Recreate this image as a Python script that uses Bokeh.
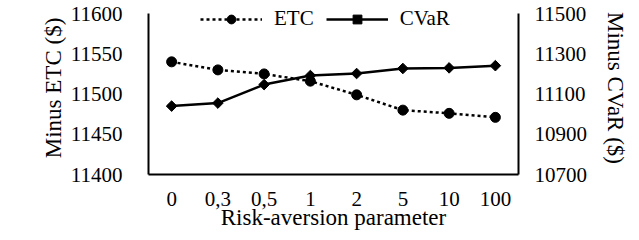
import math
from bokeh.plotting import figure
from bokeh.models import FactorRange, Range1d, LinearAxis, FixedTicker, Legend
from bokeh.embed import file_html
from bokeh.resources import INLINE

categories = ["0", "0,3", "0,5", "1", "2", "5", "10", "100"]
etc_values = [11540, 11530, 11525, 11516, 11499, 11480, 11476, 11471]
cvar_values = [11040, 11055, 11147, 11192, 11202, 11227, 11230, 11241]
left_ticks = [11400, 11450, 11500, 11550, 11600]
right_ticks = [10700, 10900, 11100, 11300, 11500]
left_bounds = (11400, 11600)
right_bounds = (10700, 11500)

FONT = "Times New Roman"

# headroom above the top tick so the legend fits inside the frame
left_top = 11615
right_top = 11560

p = figure(width=631, height=232, output_backend="svg", toolbar_location=None,
           x_range=FactorRange(*categories, range_padding=0),
           y_range=Range1d(left_bounds[0], left_top),
           min_border_left=148, min_border_right=104, min_border_top=1, min_border_bottom=58)
p.extra_y_ranges = {"cvar": Range1d(right_bounds[0], right_top)}

p.outline_line_color = None
p.xgrid.visible = False
p.ygrid.visible = False
p.background_fill_color = "white"

r1 = p.line(categories, etc_values, line_color="black", line_width=2.5, line_dash="3 3")
r2 = p.scatter(categories, etc_values, marker="circle", size=10, color="black")
r3 = p.line(categories, cvar_values, line_color="black", line_width=2.5, y_range_name="cvar")
r4 = p.scatter(categories, cvar_values, marker="square", size=7.5, angle=math.pi / 4,
               color="black", y_range_name="cvar")

right = LinearAxis(y_range_name="cvar", axis_label="Minus CVaR ($)")
p.add_layout(right, "right")

for ax in [p.xaxis[0], p.yaxis[0], right]:
    ax.major_tick_line_color = None
    ax.minor_tick_line_color = None
    ax.axis_line_color = "black"
    ax.axis_line_width = 2
    ax.major_label_text_font = FONT
    ax.major_label_text_font_size = "21px"
    ax.major_label_text_color = "black"
    ax.axis_label_text_font = FONT
    ax.axis_label_text_font_size = "23px"
    ax.axis_label_text_font_style = "normal"
    ax.axis_label_text_color = "black"

p.yaxis[0].ticker = FixedTicker(ticks=left_ticks)
p.yaxis[0].bounds = left_bounds
right.ticker = FixedTicker(ticks=right_ticks)
right.bounds = right_bounds
p.yaxis[0].axis_label = "Minus ETC ($)"
p.xaxis[0].axis_label = "Risk-aversion parameter"

p.yaxis[0].major_label_standoff = 20
p.yaxis[0].axis_label_standoff = 2
right.major_label_standoff = 10
right.axis_label_standoff = 13
p.xaxis[0].major_label_standoff = 11
p.xaxis[0].axis_label_standoff = -4

legend = Legend(items=[("ETC", [r1, r2]), ("CVaR", [r3, r4])],
                orientation="horizontal", location=(52, 143),
                glyph_width=62, glyph_height=22, label_standoff=12, spacing=12,
                padding=0, margin=0, border_line_color=None, background_fill_alpha=0,
                label_text_font=FONT, label_text_font_size="21px", label_text_color="black")
p.add_layout(legend, "center")

open("out.html", "w").write(file_html(p, INLINE))
